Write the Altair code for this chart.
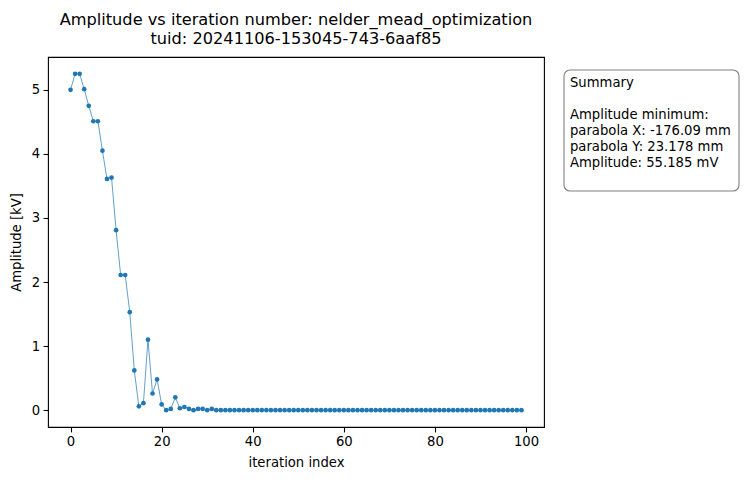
import altair as alt
import pandas as pd

# ---- data ----
amplitude_kv = [
    5.00, 5.25, 5.25, 5.01, 4.75, 4.51, 4.51, 4.05, 3.61, 3.63,
    2.81, 2.11, 2.11, 1.53, 0.62, 0.06, 0.11, 1.10, 0.26, 0.48,
    0.09, 0.00, 0.02, 0.20, 0.03, 0.05, 0.02, 0.00, 0.02, 0.02,
    0.00, 0.02, 0.00, 0.00, 0.00, 0.00, 0.00, 0.00, 0.00, 0.00,
    0.00, 0.00, 0.00, 0.00, 0.00, 0.00, 0.00, 0.00, 0.00, 0.00,
    0.00, 0.00, 0.00, 0.00, 0.00, 0.00, 0.00, 0.00, 0.00, 0.00,
    0.00, 0.00, 0.00, 0.00, 0.00, 0.00, 0.00, 0.00, 0.00, 0.00,
    0.00, 0.00, 0.00, 0.00, 0.00, 0.00, 0.00, 0.00, 0.00, 0.00,
    0.00, 0.00, 0.00, 0.00, 0.00, 0.00, 0.00, 0.00, 0.00, 0.00,
    0.00, 0.00, 0.00, 0.00, 0.00, 0.00, 0.00, 0.00, 0.00, 0.00,
]
iteration = list(range(len(amplitude_kv)))
x_ticks = [0, 20, 40, 60, 80, 100]
y_ticks = [0, 1, 2, 3, 4, 5]
title_lines = ["Amplitude vs iteration number: nelder_mead_optimization",
               "tuid: 20241106-153045-743-6aaf85"]
summary_lines = ["Summary", "", "Amplitude minimum:",
                 "parabola X: -176.09 mm", "parabola Y: 23.178 mm",
                 "Amplitude: 55.185 mV"]

df = pd.DataFrame({"iteration": iteration, "amplitude": amplitude_kv})

# matplotlib-like 5% margins
xr = max(iteration) - min(iteration)
x_dom = [min(iteration) - 0.05 * xr, max(iteration) + 0.05 * xr]
yr = max(amplitude_kv) - min(amplitude_kv)
y_dom = [min(amplitude_kv) - 0.05 * yr, max(amplitude_kv) + 0.05 * yr]

FONT = "DejaVu Sans"
BLUE = "#1f77b4"

x_enc = alt.X("iteration:Q", scale=alt.Scale(domain=x_dom, nice=False, zero=False),
              axis=alt.Axis(title="iteration index", values=x_ticks, format="d"))
y_enc = alt.Y("amplitude:Q", scale=alt.Scale(domain=y_dom, nice=False, zero=False),
              axis=alt.Axis(title="Amplitude [kV]", values=y_ticks, format="d"))

line = alt.Chart(df).mark_line(color=BLUE, strokeWidth=0.7).encode(x=x_enc, y=y_enc)
pts = alt.Chart(df).mark_circle(color=BLUE, size=22, opacity=1).encode(x=x_enc, y=y_enc)

one = pd.DataFrame({"k": [0]})
box = alt.Chart(one).mark_rect(
    fill="white", stroke="#808080", strokeWidth=1.1, cornerRadius=6
).encode(x=alt.value(516), x2=alt.value(691), y=alt.value(13), y2=alt.value(134))

txt_layers = [
    alt.Chart(one).mark_text(
        align="left", baseline="top", font=FONT, fontSize=13.2, color="black",
        text=s
    ).encode(x=alt.value(522), y=alt.value(20 + 16 * i))
    for i, s in enumerate(summary_lines) if s
]

chart = alt.layer(line, pts, box, *txt_layers).properties(
    width=496, height=370,
    padding={"left": 40, "top": 49, "right": 196, "bottom": 45},
    autosize=alt.AutoSizeParams(type="none"),
    title=alt.TitleParams(text=title_lines, anchor="middle", font=FONT,
                          fontSize=16.2, fontWeight="normal", lineHeight=19,
                          offset=10, color="black"),
).configure_view(
    stroke="black", strokeWidth=1.1
).configure_axis(
    grid=False, domain=False, labelFont=FONT, titleFont=FONT,
    labelFontSize=13.2, titleFontSize=13.2, titleFontWeight="normal",
    labelColor="black", titleColor="black", tickColor="black",
    tickSize=4.9, tickWidth=1.1, labelPadding=3.5,
).configure_axisX(
    titlePadding=9
).configure_axisY(
    titlePadding=8
)

chart.save("out.html", embed_options={"renderer": "svg", "actions": False})
